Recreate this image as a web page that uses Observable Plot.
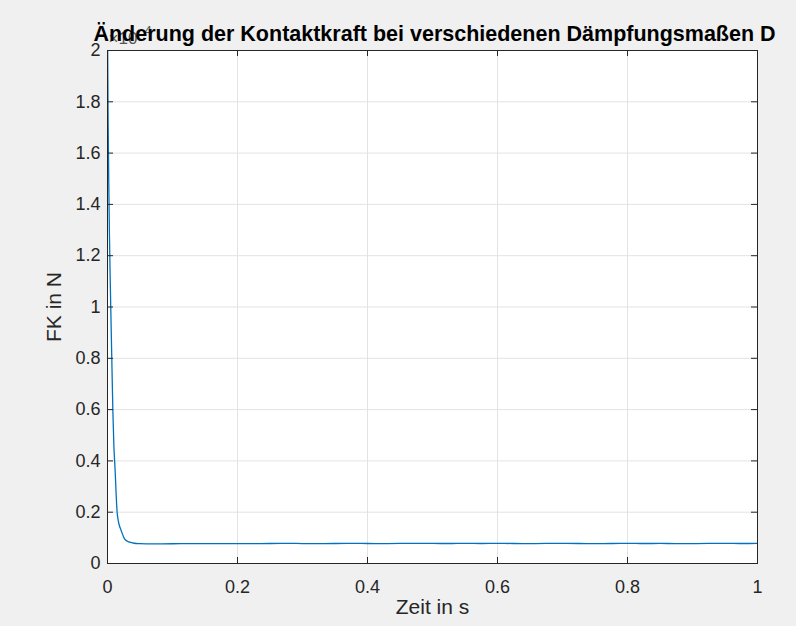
<!DOCTYPE html>
<html>
<head>
<meta charset="utf-8">
<script src="https://cdn.jsdelivr.net/npm/d3@7"></script>
<script src="https://cdn.jsdelivr.net/npm/@observablehq/plot@0.6"></script>
<style>
html, body { margin: 0; padding: 0; background: #f0f0f0; }
#chart svg { display: block; }
</style>
</head>
<body>
<div id="chart"></div>
<script>
const titleText = "Änderung der Kontaktkraft bei verschiedenen Dämpfungsmaßen D";
const xLabel = "Zeit in s";
const yLabel = "FK in N";
const xTicks = [0, 0.2, 0.4, 0.6, 0.8, 1];
const yTicks = [0, 0.2, 0.4, 0.6, 0.8, 1, 1.2, 1.4, 1.6, 1.8, 2];
// time (s)
const timeS = [0, 0.001, 0.002, 0.003, 0.004, 0.005, 0.0066, 0.0082, 0.0098, 0.0118, 0.0133, 0.0148, 0.0162, 0.0178, 0.021, 0.026, 0.03, 0.034, 0.041, 0.05, 0.06,
  0.075, 0.1, 0.125, 0.15, 0.175, 0.2, 0.225, 0.25, 0.275, 0.3, 0.325, 0.35, 0.375, 0.4, 0.425, 0.45, 0.475, 0.5,
  0.525, 0.55, 0.575, 0.6, 0.625, 0.65, 0.675, 0.7, 0.725, 0.75, 0.775, 0.8, 0.825, 0.85, 0.875, 0.9, 0.925, 0.95, 0.975, 1.0];
// contact force (x 10^4 N)
const forceE4 = [2.1, 1.72, 1.47, 1.28, 1.13, 1.0, 0.8, 0.6, 0.46, 0.36, 0.27, 0.2, 0.172, 0.152, 0.129, 0.097, 0.088, 0.083, 0.079, 0.0775, 0.0768,
  0.0765, 0.0770, 0.0772, 0.0775, 0.0772, 0.0778, 0.0776, 0.0780, 0.0785, 0.0778, 0.0774, 0.0780, 0.0786, 0.0779, 0.0776, 0.0782, 0.0787, 0.0781,
  0.0779, 0.0784, 0.0780, 0.0783, 0.0779, 0.0776, 0.0781, 0.0785, 0.0779, 0.0777, 0.0780, 0.0784, 0.0779, 0.0781, 0.0778, 0.0776, 0.0782, 0.0786, 0.0780, 0.0782];

const data = timeS.map((t, i) => ({t, f: forceE4[i]}));
const W = 796, H = 626, mL = 107, mR = 39, mT = 50, mB = 63;
const innerW = W - mL - mR, innerH = H - mT - mB;
const axisColor = "#262626";
const fmt = d => String(d);

const chart = Plot.plot({
  width: W, height: H,
  marginLeft: mL, marginRight: mR, marginTop: mT, marginBottom: mB,
  style: {background: "#f0f0f0", fontFamily: "Arial, 'Liberation Sans', Helvetica, sans-serif", color: axisColor},
  x: {domain: [0, 1]},
  y: {domain: [0, 2]},
  marks: [
    Plot.frame({fill: "white", stroke: null}),
    Plot.ruleX(xTicks, {stroke: "#e3e3e3", strokeWidth: 1}),
    Plot.ruleY(yTicks, {stroke: "#e3e3e3", strokeWidth: 1}),
    Plot.line(data, {x: "t", y: "f", stroke: "#0072BD", strokeWidth: 1.3, curve: "monotone-x", clip: true}),
    Plot.frame({stroke: axisColor, strokeWidth: 1}),
    // inward ticks
    Plot.ruleY(yTicks, {x1: 0, x2: 1, insetRight: innerW - 6, stroke: axisColor}),
    Plot.ruleY(yTicks, {x1: 0, x2: 1, insetLeft: innerW - 6, stroke: axisColor}),
    Plot.ruleX(xTicks, {y1: 2, y2: 0, insetTop: innerH - 6, stroke: axisColor}),
    Plot.ruleX(xTicks, {y1: 2, y2: 0, insetBottom: innerH - 6, stroke: axisColor}),
    Plot.axisX({ticks: xTicks, tickSize: 0, tickPadding: 17, tickFormat: fmt, fontSize: 18, label: null, color: axisColor}),
    Plot.axisY({ticks: yTicks, tickSize: 0, tickPadding: 7, tickFormat: fmt, fontSize: 18, label: null, color: axisColor}),
    Plot.text([xLabel], {frameAnchor: "bottom", dy: 50, fontSize: 21, fill: axisColor}),
    Plot.text([yLabel], {frameAnchor: "left", textAnchor: "middle", dx: -53, rotate: -90, fontSize: 21, fill: axisColor}),
    Plot.text(["×10"], {frameAnchor: "top-left", textAnchor: "start", lineAnchor: "bottom", dx: 1, dy: -7, fontSize: 17, fill: "#555"}),
    Plot.text(["4"], {frameAnchor: "top-left", textAnchor: "start", lineAnchor: "bottom", dx: 37, dy: -16, fontSize: 13, fill: "#555"}),
    Plot.text([titleText], {frameAnchor: "top", lineAnchor: "bottom", dx: 2, dy: -10, fontSize: 21.5, fontWeight: "bold", fill: "black"})
  ]
});
document.getElementById("chart").appendChild(chart);
</script>
</body>
</html>
